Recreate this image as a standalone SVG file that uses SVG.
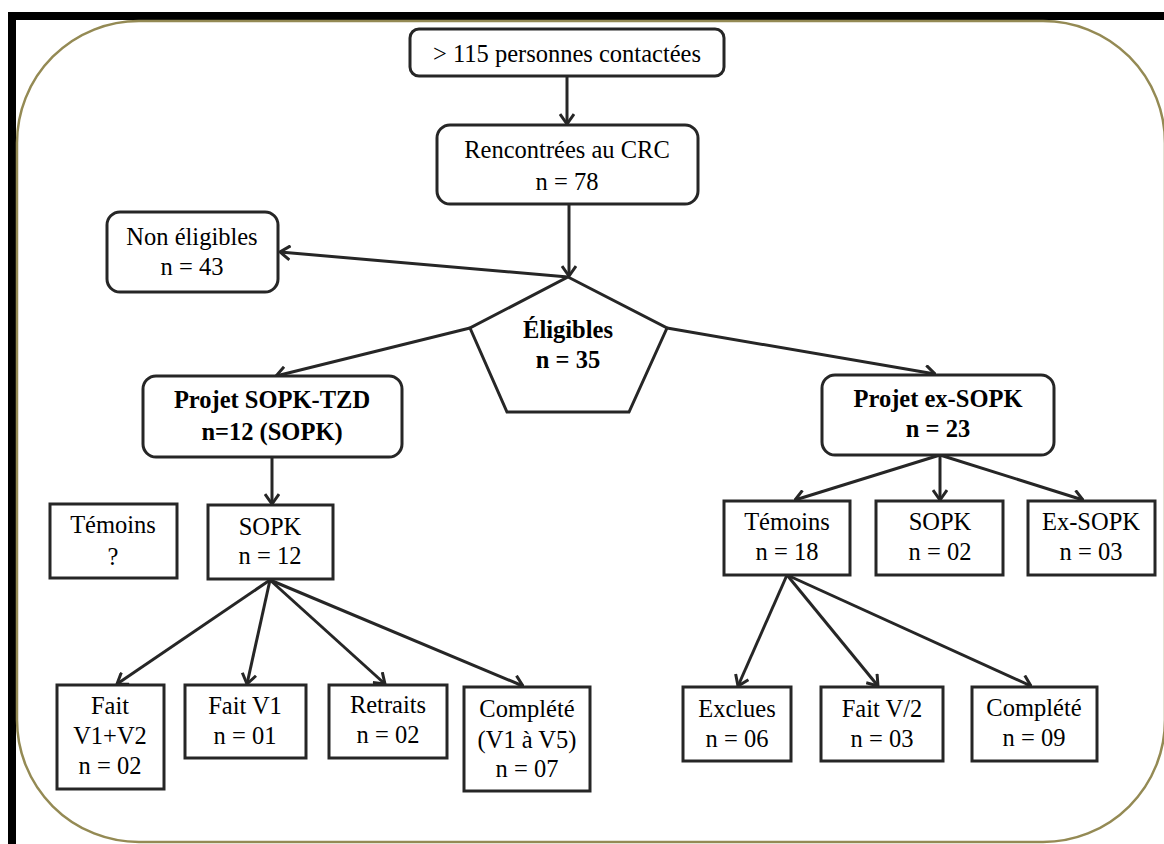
<svg xmlns="http://www.w3.org/2000/svg" width="1164" height="844" viewBox="0 0 1164 844">
<defs>
<style>
.box{fill:#fff;stroke:#262626;stroke-width:3}
.t{font-family:'Liberation Serif','Times New Roman',serif;font-size:24.5px;fill:#000;text-anchor:middle}
.b{font-weight:bold}
.c{fill:none;stroke:#262626;stroke-width:3}
</style>
<marker id="ah" viewBox="0 0 12 16" refX="11" refY="8" markerWidth="12" markerHeight="16" markerUnits="userSpaceOnUse" orient="auto">
<path d="M1,1 L11,8 L1,15" fill="none" stroke="#262626" stroke-width="3"/>
</marker>
</defs>
<rect x="0" y="0" width="1164" height="844" fill="#fff"/>
<g id="frame">
<rect x="8" y="12" width="1156" height="8" fill="#000"/>
<rect x="8" y="12" width="8" height="832" fill="#000"/>
<rect x="17" y="21" width="1148" height="821" rx="122" ry="122" fill="none" stroke="#948A54" stroke-width="2.5"/>
</g>
<g id="connectors">
<line class="c" x1="567" y1="77" x2="567" y2="124" marker-end="url(#ah)"/>
<line class="c" x1="569" y1="204" x2="569" y2="276" marker-end="url(#ah)"/>
<line class="c" x1="568" y1="277" x2="280" y2="252" marker-end="url(#ah)"/>
<line class="c" x1="470" y1="328" x2="276" y2="376" marker-end="url(#ah)"/>
<line class="c" x1="667" y1="328" x2="935" y2="374" marker-end="url(#ah)"/>
<line class="c" x1="272" y1="457" x2="272" y2="504" marker-end="url(#ah)"/>
<line class="c" x1="270" y1="580" x2="117" y2="684" marker-end="url(#ah)"/>
<line class="c" x1="270" y1="580" x2="247" y2="684" marker-end="url(#ah)"/>
<line class="c" x1="270" y1="580" x2="385" y2="684" marker-end="url(#ah)"/>
<line class="c" x1="270" y1="580" x2="523" y2="686" marker-end="url(#ah)"/>
<line class="c" x1="940" y1="455" x2="795" y2="500" marker-end="url(#ah)"/>
<line class="c" x1="940" y1="455" x2="940" y2="500" marker-end="url(#ah)"/>
<line class="c" x1="940" y1="455" x2="1083" y2="500" marker-end="url(#ah)"/>
<line class="c" x1="787" y1="575" x2="738" y2="686" marker-end="url(#ah)"/>
<line class="c" x1="787" y1="575" x2="878" y2="686" marker-end="url(#ah)"/>
<line class="c" x1="787" y1="575" x2="1031" y2="686" marker-end="url(#ah)"/>
</g>
<g font-family="Liberation Serif, Times New Roman, serif">
<g id="n-contactees">
<rect class="box" x="410" y="29" width="314" height="47" rx="9"/>
<text class="t" x="567" y="62">&gt; 115 personnes  contactées</text>
</g>
<g id="n-rencontrees">
<rect class="box" x="437" y="125" width="261" height="79" rx="13"/>
<text class="t" x="567" y="158">Rencontrées au CRC</text>
<text class="t" x="567" y="190">n = 78</text>
</g>
<g id="n-noneligibles">
<rect class="box" x="107" y="212" width="171" height="80" rx="13"/>
<text class="t" x="192" y="245">Non éligibles</text>
<text class="t" x="192" y="275">n = 43</text>
</g>
<g id="n-eligibles">
<polygon class="box" points="568,277 667,328 629,412 507,412 470,328"/>
<text class="t b" x="568" y="338">Éligibles</text>
<text class="t b" x="568" y="368">n = 35</text>
</g>
<g id="n-sopktzd">
<rect class="box" x="143" y="376" width="259" height="81" rx="13"/>
<text class="t b" x="272" y="408">Projet SOPK-TZD</text>
<text class="t b" x="272" y="440">n=12 (SOPK)</text>
</g>
<g id="n-exsopk-projet">
<rect class="box" x="822" y="375" width="232" height="80" rx="13"/>
<text class="t b" x="938" y="407">Projet ex-SOPK</text>
<text class="t b" x="938" y="437">n = 23</text>
</g>
<g id="n-temoins-q">
<rect class="box" x="50" y="504" width="127" height="74"/>
<text class="t" x="113" y="533">Témoins</text>
<text class="t" x="113" y="565">?</text>
</g>
<g id="n-sopk12">
<rect class="box" x="208" y="505" width="125" height="74"/>
<text class="t" x="270" y="535">SOPK</text>
<text class="t" x="270" y="564">n = 12</text>
</g>
<g id="n-temoins18">
<rect class="box" x="724" y="501" width="126" height="74"/>
<text class="t" x="787" y="530">Témoins</text>
<text class="t" x="787" y="560">n = 18</text>
</g>
<g id="n-sopk02">
<rect class="box" x="876" y="501" width="127" height="74"/>
<text class="t" x="940" y="530">SOPK</text>
<text class="t" x="940" y="560">n = 02</text>
</g>
<g id="n-exsopk03">
<rect class="box" x="1028" y="501" width="127" height="74"/>
<text class="t" x="1091" y="530">Ex-SOPK</text>
<text class="t" x="1091" y="560">n = 03</text>
</g>
<g id="n-faitv1v2">
<rect class="box" x="57" y="685" width="107" height="104"/>
<text class="t" x="110" y="714">Fait</text>
<text class="t" x="110" y="744">V1+V2</text>
<text class="t" x="110" y="774">n = 02</text>
</g>
<g id="n-faitv1">
<rect class="box" x="185" y="685" width="121" height="73"/>
<text class="t" x="245" y="714">Fait V1</text>
<text class="t" x="245" y="744">n = 01</text>
</g>
<g id="n-retraits">
<rect class="box" x="329" y="685" width="118" height="73"/>
<text class="t" x="388" y="713">Retraits</text>
<text class="t" x="388" y="743">n = 02</text>
</g>
<g id="n-complete-sopk">
<rect class="box" x="464" y="687" width="126" height="104"/>
<text class="t" x="527" y="717">Complété</text>
<text class="t" x="527" y="748">(V1 à V5)</text>
<text class="t" x="527" y="777">n = 07</text>
</g>
<g id="n-exclues">
<rect class="box" x="683" y="687" width="108" height="74"/>
<text class="t" x="737" y="717">Exclues</text>
<text class="t" x="737" y="747">n = 06</text>
</g>
<g id="n-faitv2">
<rect class="box" x="821" y="687" width="122" height="74"/>
<text class="t" x="882" y="717">Fait V/2</text>
<text class="t" x="882" y="747">n = 03</text>
</g>
<g id="n-complete-temoins">
<rect class="box" x="972" y="687" width="125" height="74"/>
<text class="t" x="1034" y="716">Complété</text>
<text class="t" x="1034" y="746">n = 09</text>
</g>
</g>
</svg>
